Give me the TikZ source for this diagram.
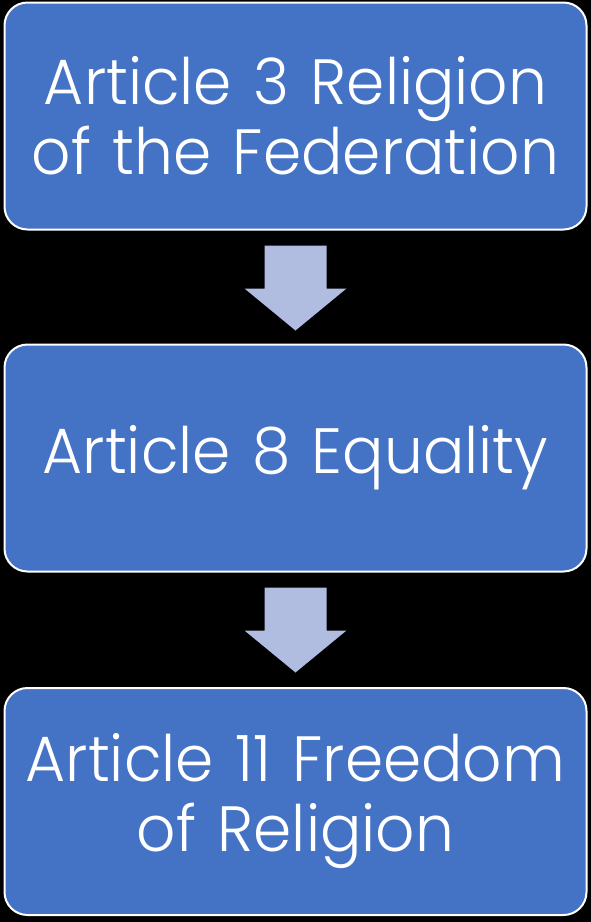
\documentclass[tikz,border=0pt]{standalone}
\usepackage{fontspec}
\setmainfont{Poppins}[UprightFont=* Light,FakeStretch=0.96]
\usetikzlibrary{calc}
\definecolor{boxblue}{RGB}{68,114,196}
\definecolor{arrowblue}{RGB}{176,189,224}
\begin{document}
\begin{tikzpicture}[x=1pt,y=-1pt,
  box/.style={draw=white,line width=2pt,fill=boxblue,rounded corners=23pt,
    minimum width=582pt,minimum height=227pt,text width=570pt,align=center,
    text=white,font=\fontsize{64}{70}\selectfont,inner sep=0pt},
  arr/.style={fill=arrowblue,draw=none}]
\fill[black] (0,0) rectangle (591,922);
\useasboundingbox (0,0) rectangle (591,922);
\node[box] (b1) at (295.5,116) {Article 3 Religion\\of the Federation};
\node[box] (b2) at (295.5,458) {Article 8 Equality};
\node[box] (b3) at (295.5,801.5) {Article 11 Freedom\\of Religion};
\foreach \a/\b in {b1/b2,b2/b3}{
  \fill[arr] ($(\a.south)+(-31,15)$) -- ($(\a.south)+(31,15)$) -- ($(\a.south)+(31,58)$)
    -- ($(\a.south)+(51,58)$) -- ($(\a.south)+(0,100)$) -- ($(\a.south)+(-51,58)$)
    -- ($(\a.south)+(-31,58)$) -- cycle;
}
\end{tikzpicture}
\end{document}
